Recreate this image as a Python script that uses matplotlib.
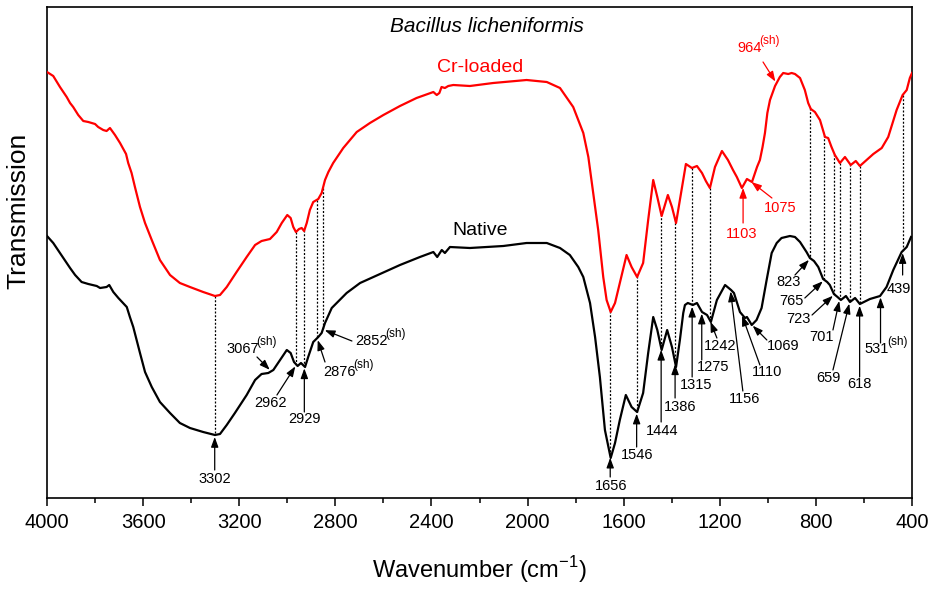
import matplotlib
matplotlib.use("Agg")
import matplotlib.pyplot as plt
import numpy as np

plt.rcParams['font.family'] = ['Liberation Sans', 'DejaVu Sans']

# native biomass spectrum (wavenumber cm-1, transmission a.u.)
native_wn = [4000, 3974, 3946, 3918, 3904, 3883, 3856, 3828, 3793, 3779, 3752, 3741,
             3724, 3703, 3668, 3655, 3641, 3627, 3613, 3592, 3564, 3530, 3488, 3447,
             3405, 3350, 3301, 3280, 3252, 3218, 3169, 3134, 3107, 3079, 3058, 3030,
             3002, 2986, 2972, 2957, 2943, 2926, 2913, 2892, 2871, 2857, 2843, 2815,
             2753, 2697, 2614, 2531, 2448, 2392, 2376, 2357, 2344, 2323, 2240, 2101,
             2004, 1920, 1865, 1824, 1789, 1768, 1740, 1719, 1699, 1678, 1654, 1636,
             1616, 1591, 1567, 1544, 1519, 1498, 1477, 1460, 1442, 1419, 1399, 1382,
             1366, 1352, 1345, 1333, 1312, 1295, 1274, 1253, 1237, 1212, 1178, 1153,
             1141, 1116, 1095, 1087, 1067, 1047, 1026, 1005, 984, 963, 943, 908, 887,
             866, 839, 825, 808, 790, 770, 753, 742, 725, 710, 696, 675, 658, 637, 617,
             575, 533, 506, 478, 443, 422, 404]
native_t = [262, 255, 245, 235, 230, 223, 216, 214, 212, 210, 211, 213,
            206, 200, 191, 181, 171, 158, 145, 126, 111, 96, 85, 75,
            70, 66, 63, 64, 73, 85, 103, 118, 124, 125, 128, 138,
            148, 145, 136, 132, 135, 131, 141, 156, 161, 165, 175, 190,
            205, 215, 224, 233, 241, 246, 241, 248, 245, 251, 250, 252,
            255, 255, 250, 243, 231, 221, 195, 161, 121, 68, 40, 55,
            78, 103, 91, 86, 105, 145, 181, 168, 148, 168, 151, 131,
            158, 185, 193, 195, 193, 195, 186, 183, 176, 198, 213, 208,
            205, 186, 180, 181, 173, 178, 190, 218, 245, 255, 260, 262, 261,
            256, 246, 240, 237, 231, 219, 216, 213, 204, 201, 198, 202, 196, 200, 194,
            199, 202, 211, 228, 246, 251, 261]

# Cr-loaded biomass spectrum
cr_wn = [4000, 3974, 3946, 3918, 3904, 3891, 3870, 3849, 3828, 3800, 3787, 3766,
         3752, 3738, 3717, 3696, 3671, 3662, 3648, 3634, 3613, 3592, 3564, 3530,
         3488, 3447, 3405, 3350, 3301, 3280, 3252, 3211, 3169, 3134, 3107, 3072,
         3044, 3023, 3000, 2986, 2975, 2964, 2951, 2940, 2930, 2919, 2906, 2892,
         2871, 2857, 2843, 2829, 2809, 2767, 2711, 2656, 2600, 2531, 2462, 2392,
         2378, 2367, 2358, 2344, 2330, 2309, 2240, 2143, 2004, 1920, 1865, 1810,
         1768, 1747, 1727, 1706, 1685, 1671, 1654, 1636, 1616, 1588, 1567, 1544,
         1519, 1498, 1477, 1460, 1442, 1416, 1399, 1382, 1366, 1341, 1316, 1295,
         1274, 1258, 1241, 1220, 1191, 1166, 1145, 1129, 1108, 1087, 1066, 1045,
         1033, 1022, 1012, 1002, 991, 970, 950, 936, 915, 901, 887, 866, 846, 832,
         821, 804, 783, 762, 749, 735, 721, 700, 679, 655, 634, 617, 589, 561, 526,
         499, 464, 439, 422, 409, 400]
cr_t = [426, 422, 411, 401, 395, 391, 383, 377, 376, 374, 371, 368,
        367, 370, 363, 355, 344, 335, 325, 311, 291, 275, 258, 238,
        223, 215, 211, 206, 202, 203, 211, 226, 241, 253, 257, 259,
        266, 275, 283, 280, 271, 266, 269, 270, 267, 275, 288, 296,
        299, 305, 318, 326, 335, 350, 366, 375, 383, 392, 400, 406,
        403, 405, 411, 410, 412, 413, 412, 415, 418, 416, 410, 391,
        365, 341, 305, 268, 221, 198, 186, 195, 215, 243, 231, 221,
        235, 278, 318, 301, 282, 303, 291, 275, 298, 334, 330, 332,
        325, 317, 310, 331, 347, 338, 328, 321, 310, 319, 316, 331,
        338, 351, 365, 385, 398, 412, 421, 425, 424, 425, 424, 420, 408, 395,
        389, 386, 378, 361, 360, 351, 343, 335, 341, 333, 337, 332, 338, 344, 350,
        361, 388, 403, 408, 420, 425]

# bands joined by dotted lines between the two spectra
shared_bands = [3302, 2962, 2929, 2876, 2852, 1656, 1546, 1444, 1386, 1315, 1242,
                823, 765, 723, 701, 659, 618, 439]

# band labels: text, shoulder flag, spectrum
band_labels = ['3302', '3067', '2962', '2929', '2876', '2852', '1656', '1546', '1444',
               '1386', '1315', '1275', '1242', '1156', '1110', '1069', '823', '765',
               '723', '701', '659', '618', '531', '439', '964', '1103', '1075']
band_sh = [0, 1, 0, 0, 1, 1, 0, 0, 0, 0, 0, 0, 0, 0, 0, 0, 0, 0, 0, 0, 0, 0, 1, 0, 1, 0, 0]
band_on = ['n'] * 24 + ['c'] * 3

# where each label text sits and where its arrow starts (wavenumber, a.u.)
text_pos = [(3301, 19), (3141, 149), (3068, 95), (2930, 79), (2739, 126), (2606, 157),
            (1653, 12), (1545, 43), (1441, 67), (1366, 91), (1299, 113), (1228, 131),
            (1199, 152), (1095, 99), (1004, 126), (937, 152), (912, 216), (900, 197),
            (871, 179), (775, 161), (746, 120), (617, 114), (502, 149), (454, 209),
            (1033, 450), (1108, 264), (950, 290)]
tail_pos = [(3302, 28), (3126, 141), (3043, 103), (2929, 86), (2843, 136), (2731, 157),
            (1656, 21), (1546, 51), (1444, 76), (1386, 100), (1315, 121), (1275, 138),
            (1212, 160), (1104, 107), (1033, 133), (1004, 158), (887, 223), (846, 200),
            (816, 183), (729, 168), (729, 128), (618, 121), (531, 155), (439, 223),
            (1020, 436), (1103, 275), (983, 300)]

RED = '#ff0000'


def curve_at(w, wn, t):
    return np.interp(w, wn[::-1], t[::-1])


fig = plt.figure(figsize=(9.35, 5.89), dpi=100)
ax = fig.add_axes([47 / 935, 91 / 589, 865 / 935, 491 / 589])

ax.plot(cr_wn, cr_t, color=RED, lw=1.6, zorder=3)
ax.plot(native_wn, native_t, color='k', lw=1.6, zorder=3)

nwn, nt = np.array(native_wn), np.array(native_t)
cwn, ct = np.array(cr_wn), np.array(cr_t)

for w in shared_bands:
    ax.plot([w, w], [curve_at(w, cwn, ct), curve_at(w, nwn, nt)],
            color='k', lw=0.9, ls=(0, (1.6, 1.4)), zorder=2)

for lab, sh, on, (tx, ty), (ax0, ay0) in zip(band_labels, band_sh, band_on, text_pos, tail_pos):
    col = RED if on == 'c' else 'k'
    w = float(lab)
    yc = curve_at(w, cwn, ct) if on == 'c' else curve_at(w, nwn, nt)
    if sh:
        # number plus raised "(sh)" tag, centred as a pair
        dx = (len(lab) * 5.55 - 14.5) / 2
        ax.annotate(lab, xy=(tx, ty), xytext=(dx, 0), textcoords='offset points',
                    ha='right', va='center', fontsize=10.5, color=col)
        ax.annotate('(sh)', xy=(tx, ty), xytext=(dx - 1.6, 5), textcoords='offset points',
                    ha='left', va='center', fontsize=8.5, color=col)
    else:
        ax.text(tx, ty, lab, ha='center', va='center', fontsize=10.5, color=col)
    ax.annotate('', xy=(w, yc), xytext=(ax0, ay0),
                arrowprops=dict(arrowstyle='-|>,head_length=0.6,head_width=0.22',
                                color=col, lw=0.9, mutation_scale=10,
                                shrinkA=0, shrinkB=1.5))

ax.text(2198, 431, 'Cr-loaded', color=RED, fontsize=14, ha='center', va='center')
ax.text(2198, 268, 'Native', color='k', fontsize=14, ha='center', va='center')
ax.text(2169, 472, 'Bacillus licheniformis', fontsize=15, style='italic',
        ha='center', va='center')

ax.set_xlim(4000, 400)
ax.set_ylim(0, 491)
ax.set_xticks(np.arange(4000, 399, -400))
ax.set_xticks(np.arange(3800, 400, -400), minor=True)
ax.set_yticks([])
ax.tick_params(axis='x', which='major', direction='out', length=6, width=1.1,
               labelsize=14.5, pad=5)
ax.tick_params(axis='x', which='minor', direction='out', length=3.5, width=1.1)
for s in ax.spines.values():
    s.set_linewidth(1.2)

ax.set_xlabel(r'Wavenumber (cm$^{\mathregular{-1}}$)', fontsize=17)
ax.xaxis.set_label_coords(0.5, -0.115)
ax.set_ylabel('Transmission', fontsize=19)
ax.yaxis.set_label_coords(-0.019, 0.585)

fig.savefig('out.png', dpi=100)
